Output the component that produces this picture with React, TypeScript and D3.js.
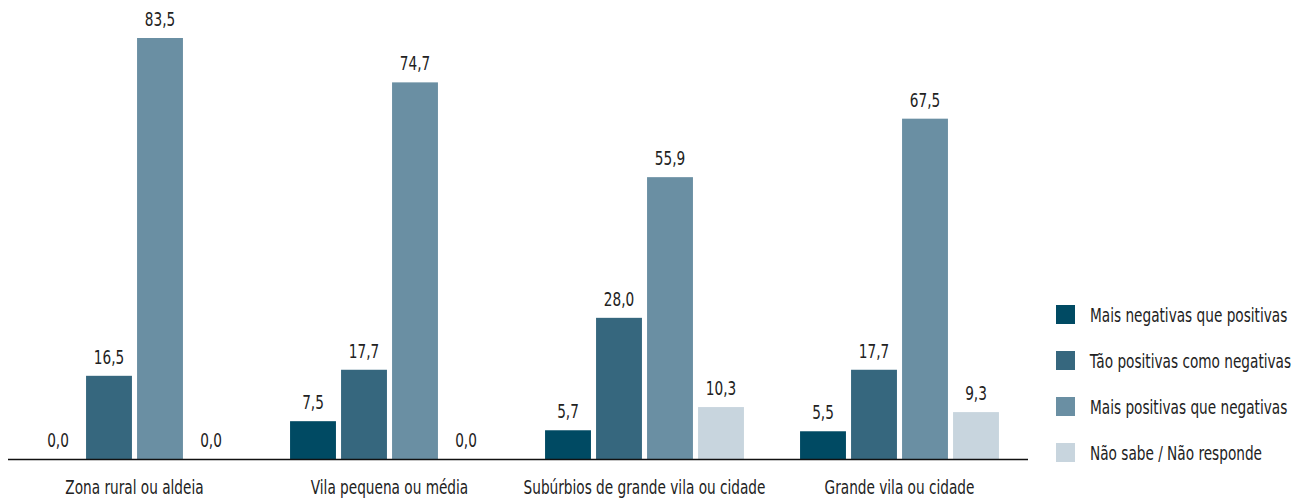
import React from "react";
import * as d3 from "d3";

const categories = [
  "Zona rural ou aldeia",
  "Vila pequena ou média",
  "Subúrbios de grande vila ou cidade",
  "Grande vila ou cidade",
];
const seriesNames = [
  "Mais negativas que positivas",
  "Tão positivas como negativas",
  "Mais positivas que negativas",
  "Não sabe / Não responde",
];
const maisNegativas = [0.0, 7.5, 5.7, 5.5];
const taoPositivas = [16.5, 17.7, 28.0, 17.7];
const maisPositivas = [83.5, 74.7, 55.9, 67.5];
const naoSabe = [0.0, 0.0, 10.3, 9.3];
const seriesValues = [maisNegativas, taoPositivas, maisPositivas, naoSabe];
const colors = ["#004a63", "#36677e", "#6a8fa3", "#c8d5de"];

const W = 1301;
const H = 501;
const FONT = "'DejaVu Sans Condensed', 'Liberation Sans Narrow', sans-serif";
const FS = 19;
const SX = 0.8;

export default function App() {
  const x0 = d3.scaleBand<string>().domain(categories).range([7, 1027]).paddingInner(0).paddingOuter(0);
  const x1 = d3
    .scaleBand<string>()
    .domain(seriesNames)
    .range([25.5, 255 - 25.5])
    .paddingInner(0.1)
    .paddingOuter(0.05);
  const y = d3.scaleLinear().domain([0, 83.5]).range([459, 38]);
  const fmt = (v: number) => v.toFixed(1).replace(".", ",");
  const squeeze = (origin: string) => ({
    transform: `scaleX(${SX})`,
    transformBox: "fill-box" as const,
    transformOrigin: origin,
  });

  return (
    <svg width={W} height={H} style={{ position: "absolute", left: 0, top: 0 }} fontFamily={FONT}>
      {categories.map((c, ci) => (
        <g key={c} transform={`translate(${x0(c)},0)`}>
          {seriesNames.map((s, si) => {
            const v = seriesValues[si][ci];
            const bx = x1(s)!;
            const bw = x1.bandwidth();
            return (
              <g key={s}>
                {v > 0 && (
                  <rect x={bx} y={y(v)} width={bw} height={y(0) - y(v)} fill={colors[si]} />
                )}
                <text
                  x={bx + bw / 2}
                  y={y(v) - 12}
                  textAnchor="middle"
                  fontSize={FS}
                  fill="#222"
                  style={squeeze("center")}
                >
                  {fmt(v)}
                </text>
              </g>
            );
          })}
          <text
            x={x0.bandwidth() / 2}
            y={494}
            textAnchor="middle"
            fontSize={FS}
            fill="#222"
            style={squeeze("center")}
          >
            {c}
          </text>
        </g>
      ))}
      <line x1={8} x2={1028} y1={459.5} y2={459.5} stroke="#111" strokeWidth={1.5} />
      {seriesNames.map((s, i) => (
        <g key={s} transform={`translate(1056,${305 + i * 46})`}>
          <rect width={19} height={19} fill={colors[i]} />
          <text x={34} y={17} fontSize={FS} fill="#222" style={squeeze("left")}>
            {s}
          </text>
        </g>
      ))}
    </svg>
  );
}
